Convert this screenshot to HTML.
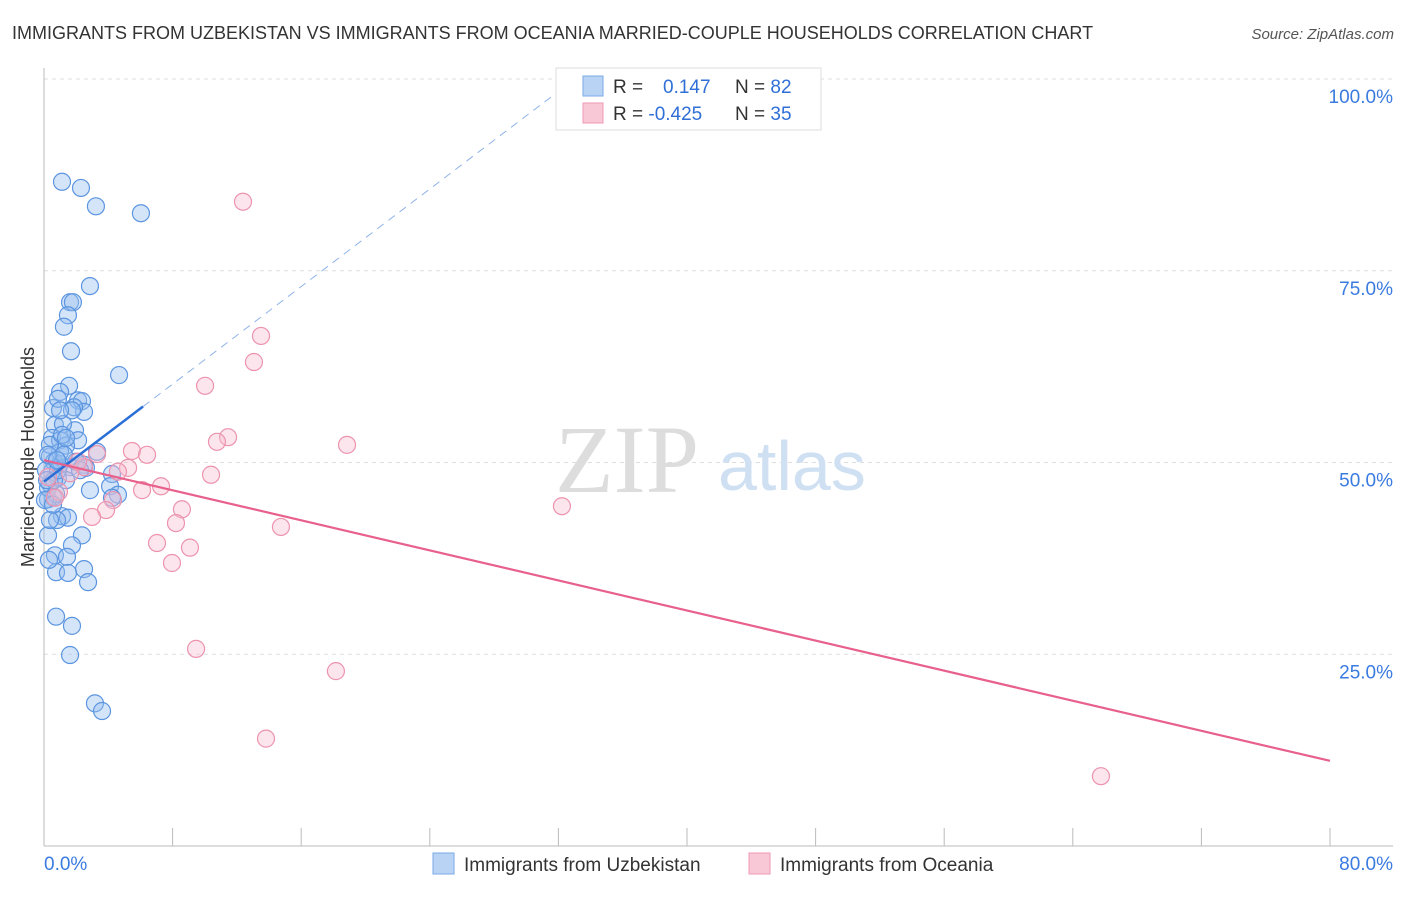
<!DOCTYPE html>
<html><head><meta charset="utf-8"><style>
body{margin:0;background:#fff;font-family:"Liberation Sans",sans-serif}
</style></head><body>
<svg width="1406" height="892" xmlns="http://www.w3.org/2000/svg" style="font-family:'Liberation Sans',sans-serif">
<text x="12" y="39" font-size="18" fill="#333">IMMIGRANTS FROM UZBEKISTAN VS IMMIGRANTS FROM OCEANIA MARRIED-COUPLE HOUSEHOLDS CORRELATION CHART</text>
<text x="1394" y="39" font-size="15" fill="#555" font-style="italic" text-anchor="end">Source: ZipAtlas.com</text>
<g id="grid"></g>
<line x1="44" y1="68" x2="44" y2="846" stroke="#bbb"/>
<line x1="44" y1="846" x2="1393" y2="846" stroke="#bbb"/>
<text x="555" y="492" font-size="96" fill="#ddd" font-family="Liberation Serif,serif">ZIP</text>
<text x="718" y="490" font-size="70" fill="#cfe0f3">atlas</text>
<text transform="translate(34,457) rotate(-90)" font-size="18" fill="#333" text-anchor="middle">Married-couple Households</text>
<g id="ticks"></g>
<g id="pts"></g>
<g id="lines"></g>
<g>
<rect x="556" y="68" width="265" height="62" fill="#fff" stroke="#ddd"/>
<rect x="583" y="76" width="20" height="20" fill="#b9d3f5" stroke="#7aa9e6"/>
<rect x="583" y="103" width="20" height="20" fill="#f9c8d7" stroke="#ee9ab4"/>
<text x="613" y="93" font-size="19" fill="#333">R = <tspan fill="#2f6fd6" x="663">0.147</tspan><tspan fill="#333" x="735">N = </tspan><tspan fill="#2f6fd6">82</tspan></text>
<text x="613" y="120" font-size="19" fill="#333">R = <tspan fill="#2f6fd6">-0.425</tspan><tspan fill="#333" x="735">N = </tspan><tspan fill="#2f6fd6">35</tspan></text>
</g>
<g>
<rect x="433" y="853" width="21" height="21" fill="#b9d3f5" stroke="#7aa9e6"/>
<text x="464" y="871" font-size="19" fill="#333">Immigrants from Uzbekistan</text>
<rect x="749" y="853" width="21" height="21" fill="#f9c8d7" stroke="#ee9ab4"/>
<text x="780" y="871" font-size="19" fill="#333">Immigrants from Oceania</text>
</g>
</svg>
<script>
const yTicks=[25,50,75,100];
const yTickLabels=["25.0%","50.0%","75.0%","100.0%"];
const xTicks=[0,8,16,24,32,40,48,56,64,72,80];
const bluePx=[[62,182],[81,188],[96,206],[141,213],[90,286],[70,302],[73,302],[68,315],[64,327],[71,351],[119,375],[69,386],[60,392],[53,408],[78,400],[82,401],[84,412],[74,407],[58,399],[55,425],[75,430],[63,424],[52,438],[60,440],[78,440],[66,446],[50,456],[54,462],[97,452],[60,464],[70,467],[84,465],[52,472],[58,478],[112,474],[50,484],[110,486],[90,490],[118,495],[112,498],[53,497],[48,499],[62,516],[68,518],[57,520],[82,535],[48,535],[72,545],[55,555],[67,557],[84,569],[56,572],[68,573],[88,582],[56,617],[72,626],[70,655],[95,703],[102,711],[48,488],[56,494],[46,470],[60,452],[50,445],[76,462],[62,435],[66,480],[54,480],[45,500],[86,468],[50,520],[49,560],[64,455],[58,470],[72,410],[48,455],[53,505],[66,438],[60,410],[80,470],[47,480],[57,460]];
const pinkPx=[[243,202],[261,336],[254,362],[205,386],[228,437],[217,442],[347,445],[132,451],[147,455],[97,454],[128,468],[118,472],[211,475],[84,467],[70,473],[142,490],[161,486],[59,492],[55,498],[113,500],[106,510],[182,509],[92,517],[176,523],[281,527],[562,506],[157,543],[190,548],[172,563],[196,649],[336,671],[266,739],[1101,776],[48,477],[78,462]];
// data values (x %, y %) derived from reading the picture
const blueX=bluePx.map(p=>+((p[0]-44)/1286*80).toFixed(2));
const blueY=bluePx.map(p=>+((846-p[1])/7.67).toFixed(1));
const pinkX=pinkPx.map(p=>+((p[0]-44)/1286*80).toFixed(2));
const pinkY=pinkPx.map(p=>+((846-p[1])/7.67).toFixed(1));
const blueTrend=[47.5,1.59]; // intercept, slope
const pinkTrend=[50.3,-0.49];
const NS="http://www.w3.org/2000/svg";
const sx=v=>44+v/80*1286, sy=v=>846-v*7.67;
function mk(t,a,p){const e=document.createElementNS(NS,t);for(const k in a)e.setAttribute(k,a[k]);p.appendChild(e);return e;}
const grid=document.getElementById('grid'),ticks=document.getElementById('ticks');
yTicks.forEach((v,i)=>{
 const l=mk('line',{x1:44,x2:1393,y1:sy(v),y2:sy(v),stroke:'#ddd','stroke-dasharray':'4,4'},grid);
 
 
 const t=mk('text',{x:1393,y:sy(v)+24,'font-size':19,fill:'#3a7be0','text-anchor':'end'},ticks);
 t.textContent=yTickLabels[i];
 
 
});
xTicks.forEach(v=>{
 const l=mk('line',{x1:sx(v),x2:sx(v),y1:828,y2:846,stroke:'#bbb'},ticks);
 
 
});
let t=mk('text',{x:44,y:870,'font-size':19,fill:'#3a7be0'},ticks);t.textContent='0.0%';


t=mk('text',{x:1393,y:870,'font-size':19,fill:'#3a7be0','text-anchor':'end'},ticks);t.textContent='80.0%';


const pts=document.getElementById('pts');
blueX.forEach((x,i)=>{const c=mk('circle',{cx:sx(x),cy:sy(blueY[i]),r:8.5,fill:'rgba(150,190,240,0.4)',stroke:'#5b95e0','stroke-width':1.2},pts);
 
 });
pinkX.forEach((x,i)=>{const c=mk('circle',{cx:sx(x),cy:sy(pinkY[i]),r:8.5,fill:'rgba(248,190,208,0.4)',stroke:'#ec93ae','stroke-width':1.2},pts);
 
 });
const lines=document.getElementById('lines');
const bEnd=(100-blueTrend[0])/blueTrend[1];
let l=mk('line',{x1:sx(0),y1:sy(blueTrend[0]),x2:sx(6.16),y2:sy(blueTrend[0]+blueTrend[1]*6.16),stroke:'#2a6fd6','stroke-width':2.5},lines);


l=mk('line',{x1:sx(6.16),y1:sy(blueTrend[0]+blueTrend[1]*6.16),x2:sx(bEnd),y2:sy(100),stroke:'#8fb3e8','stroke-width':1,'stroke-dasharray':'8,6'},lines);


l=mk('line',{x1:sx(0),y1:sy(pinkTrend[0]),x2:sx(80),y2:sy(pinkTrend[0]+pinkTrend[1]*80),stroke:'#e8608c','stroke-width':2.2},lines);


</script>
</body></html>
